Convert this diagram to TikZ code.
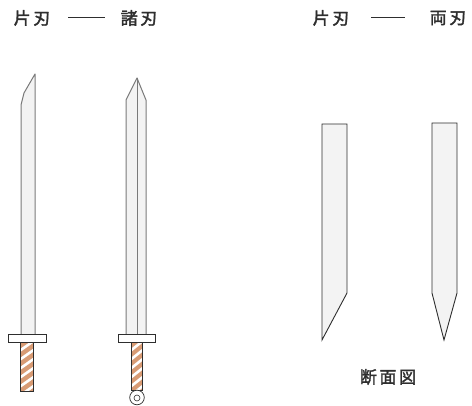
\documentclass[tikz,border=0pt]{standalone}
\usepackage{fontspec}
\newfontfamily\cjk{Noto Sans CJK JP}[FakeBold=2, LetterSpace=15]
\definecolor{bladefill}{HTML}{F3F3F3}
\definecolor{bladeline}{HTML}{7A7A7A}
\definecolor{grip}{HTML}{D89B74}
\definecolor{ink}{HTML}{2E2E2E}
\begin{document}
\begin{tikzpicture}[x=1pt,y=-1pt,
  label/.style={font=\cjk\fontsize{17}{17}\selectfont, text=ink, inner sep=0pt},
  blade/.style={fill=bladefill, draw=bladeline, line width=1pt, line join=round},
  guard/.style={fill=white, draw=ink, line width=0.8pt},
  stripe/.style={white, line width=2.6pt},
  section/.style={fill=bladefill, draw=ink, line width=0.9pt, line join=miter},
  rule/.style={draw=ink, line width=0.9pt}]
\useasboundingbox (0,0) rectangle (472,406);

% headings
\node[label] (k1) at (32,18) {片刃};
\node[label] (m1) at (139,18) {諸刃};
\coordinate (d1a) at (68,17);
\coordinate (d1b) at (105,17);
\draw[rule] (d1a) -- (d1b);
\node[label] (k2) at (331,18) {片刃};
\node[label] (m2) at (448,18) {両刃};
\coordinate (d2a) at (371,17);
\coordinate (d2b) at (405,17);
\draw[rule] (d2a) -- (d2b);

% single-edged sword
\draw[blade] (21,334) -- (21,105) -- (24,93) -- (35,74) -- (35,334);
\fill[grip] (20,342) rectangle (33,391);
\begin{scope}
  \clip (20,342) rectangle (33,391);
  \foreach \y in {340,349,...,400}
    \draw[stripe] (18,\y+12) -- (35,\y);
\end{scope}
\draw[draw=ink, line width=0.7pt] (20,342) rectangle (33,391);
\draw[guard] (8,334) rectangle (46,342);

% double-edged sword
\draw[blade] (126,334) -- (126,100) -- (137,78) -- (146,100) -- (146,334);
\draw[draw=bladeline, line width=1pt] (137,78) -- (137,334);
\fill[grip] (131,342) rectangle (142,390);
\begin{scope}
  \clip (131,342) rectangle (142,390);
  \foreach \y in {340,349,...,400}
    \draw[stripe] (129,\y+12) -- (144,\y);
\end{scope}
\draw[draw=ink, line width=0.7pt] (131,342) rectangle (142,390);
\draw[guard] (118,334) rectangle (155,342);
\draw[fill=white, draw=ink, line width=0.7pt] (137,397.5) circle (7.3);
\draw[draw=ink, line width=0.6pt] (137,398) circle (3);

% cross sections
\draw[section] (322,124) -- (347,124) -- (347,293) -- (322,340) -- cycle;
\draw[section] (432,123) -- (457,123) -- (457,293) -- (444,340) -- (432,293) -- cycle;
\node[label] (sec) at (388,377) {断面図};
\end{tikzpicture}
\end{document}
